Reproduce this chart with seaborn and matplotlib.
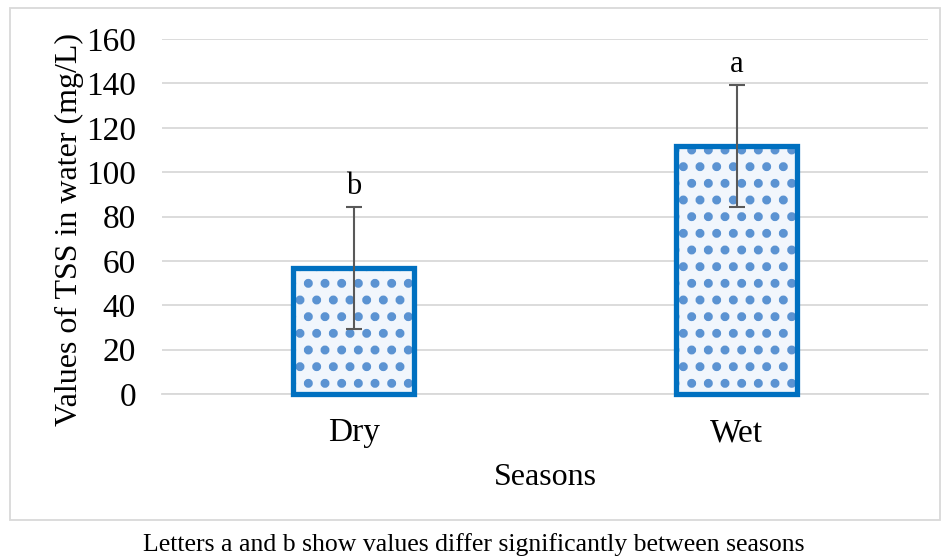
import matplotlib
matplotlib.use("Agg")
import matplotlib.pyplot as plt
import seaborn as sns
import pandas as pd
from matplotlib.patches import Rectangle

seasons = ["Dry", "Wet"]
means = [57, 112]
sds = [27.5, 27.5]
letters = ["b", "a"]

sns.set_theme(style="white")
plt.rcParams["font.family"] = ["Liberation Serif", "DejaVu Serif"]
plt.rcParams["hatch.linewidth"] = 4.0

df = pd.DataFrame({"Season": seasons, "TSS": means})

fig = plt.figure(figsize=(9.49, 5.58), dpi=100)
ax = fig.add_axes([0.171, 0.294, 0.807, 0.636])

blue_edge = "#0070C0"
dot_blue = "#5b93d2"

# patterned fill
sns.barplot(data=df, x="Season", y="TSS", ax=ax, width=0.315,
            color="#eef4fb", edgecolor=dot_blue, linewidth=0,
            errorbar=None, zorder=3)
for p in ax.patches:
    p.set_hatch(".")
    p.set_facecolor("#f1f6fc")
n_fill = len(ax.patches)
# outline
sns.barplot(data=df, x="Season", y="TSS", ax=ax, width=0.315,
            fill=False, edgecolor=blue_edge, linewidth=3.8,
            errorbar=None, zorder=3.5)
for p in ax.patches[n_fill:]:
    p.set_edgecolor(blue_edge)
    p.set_clip_on(False)

ax.errorbar(x=range(len(seasons)), y=means, yerr=sds, fmt="none",
            ecolor="#595959", elinewidth=1.5, capsize=6, capthick=1.5, zorder=4)

for i, (m, s, l) in enumerate(zip(means, sds, letters)):
    ax.text(i, m + s + 2.5, l, ha="center", va="bottom", fontsize=22, color="black")

ax.set_ylim(0, 160)
ax.set_xlim(-0.5, 1.5)
ax.set_yticks(range(0, 161, 20))
ax.yaxis.grid(True, color="#d9d9d9", linewidth=1.3, zorder=0)
ax.set_axisbelow(True)
for s in ["top", "right", "left"]:
    ax.spines[s].set_visible(False)
ax.spines["bottom"].set_color("#d9d9d9")
ax.spines["bottom"].set_linewidth(1.3)
ax.tick_params(axis="both", length=0, labelsize=24, colors="black")
ax.tick_params(axis="y", pad=19)
ax.tick_params(axis="x", pad=17)
ax.set_ylabel("Values of TSS in water (mg/L)", fontsize=23, color="black")
ax.yaxis.set_label_coords(-0.102, 0.462)
ax.set_xlabel("Seasons", fontsize=23, color="black", labelpad=11)

fig.patches.append(Rectangle((10/949, 1-520/558), 930/949, 512/558,
                             transform=fig.transFigure, fill=False,
                             edgecolor="#d9d9d9", linewidth=1.3))
fig.text(474/949, 1-545/558, "Letters a and b show values differ significantly between seasons",
         ha="center", va="center", fontsize=18.5, color="black")

fig.savefig("out.png", dpi=100)
